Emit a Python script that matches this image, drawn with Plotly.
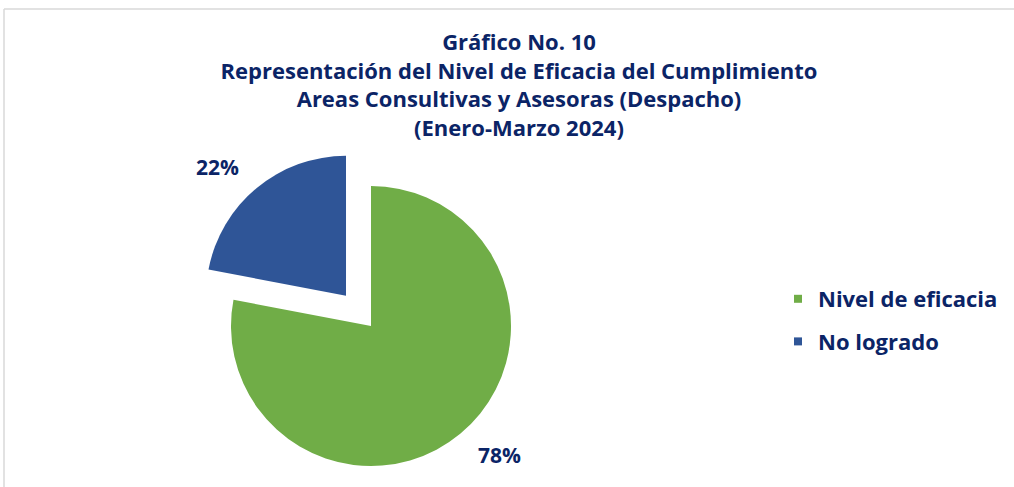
import math
import plotly.graph_objects as go

# ---- data ----
categories = ["Nivel de eficacia", "No logrado"]
values = [78, 22]
colors = ["#70AD47", "#2F5597"]
title_lines = [
    "Gráfico No. 10",
    "Representación del Nivel de Eficacia del Cumplimiento",
    "Areas Consultivas y Asesoras (Despacho)",
    "(Enero-Marzo 2024)",
]

# ---- layout constants ----
W, H = 1014, 487
CX, CY, R = 371, 326, 140        # pie center / radius (pixels)
PULL = 0.28                      # explode fraction of the "No logrado" slice
LABEL_R = R + 17                 # radius used to place outside labels
NAVY = "#0B2466"
FONT = "Open Sans"

total = sum(values)
# mid-angle of the exploded slice (clockwise from 12 o'clock)
start = sum(values[:1]) / total * 360
mid = math.radians(start + values[1] / total * 360 / 2)
dx = PULL * R * math.sin(mid)
dy = -PULL * R * math.cos(mid)   # screen y grows downward


def domain(cx, cy, r):
    return dict(x=[(cx - r) / W, (cx + r) / W],
                y=[1 - (cy + r) / H, 1 - (cy - r) / H])


transparent = "rgba(0,0,0,0)"
label_font = dict(family=FONT, size=21, color=NAVY, weight="bold")
common = dict(labels=categories, values=values, sort=False, direction="clockwise",
              rotation=0, showlegend=False, hoverinfo="skip")

# main slice
fig = go.Figure()
fig.add_trace(go.Pie(
    marker=dict(colors=[colors[0], transparent], line=dict(width=0)),
    textinfo="none", domain=domain(CX, CY, R), **common))
# exploded slice
fig.add_trace(go.Pie(
    marker=dict(colors=[transparent, colors[1]], line=dict(width=0)),
    textinfo="none", domain=domain(CX + dx, CY + dy, R), **common))
# percentage labels (transparent rings used only to position the text)
fig.add_trace(go.Pie(
    marker=dict(colors=[transparent, transparent], line=dict(width=0)),
    texttemplate=["%{percent:.0%}", ""], textposition="outside", textfont=label_font,
    domain=domain(CX, CY, LABEL_R), **common))
fig.add_trace(go.Pie(
    marker=dict(colors=[transparent, transparent], line=dict(width=0)),
    texttemplate=["", "%{percent:.0%}"], textposition="outside", textfont=label_font,
    domain=domain(CX + dx, CY + dy, LABEL_R), **common))

# legend entries
for i, (name, col) in enumerate(zip(categories, colors)):
    fig.add_trace(go.Scatter(
        x=[None], y=[None], mode="markers", name=name, legendgroup=f"g{i}",
        marker=dict(symbol="square", size=8, color=col),
    ))

fig.update_layout(
    width=W, height=H,
    margin=dict(l=0, r=0, t=0, b=0),
    paper_bgcolor="white", plot_bgcolor="white",
    xaxis=dict(visible=False), yaxis=dict(visible=False),
    title=dict(
        text="<br>".join(title_lines),
        x=519 / W, xanchor="center", xref="paper",
        y=1 - 50 / H, yanchor="top", yref="container",
        font=dict(family=FONT, size=22, color=NAVY, weight="bold"),
    ),
    legend=dict(
        x=778 / W, xanchor="left", y=1 - 278 / H, yanchor="top",
        font=dict(family=FONT, size=22, color=NAVY, weight="bold"),
        tracegroupgap=11, bgcolor="rgba(0,0,0,0)",
    ),
    shapes=[
        dict(type="line", xref="paper", yref="paper", x0=4 / W, x1=4 / W,
             y0=0, y1=1 - 9 / H, line=dict(color="#D9D9D9", width=1.5)),
        dict(type="line", xref="paper", yref="paper", x0=4 / W, x1=1,
             y0=1 - 9 / H, y1=1 - 9 / H, line=dict(color="#D9D9D9", width=1.5)),
    ],
)

fig.write_html("out.html", config={"displayModeBar": False},
               post_script="document.body.style.margin='0';")
